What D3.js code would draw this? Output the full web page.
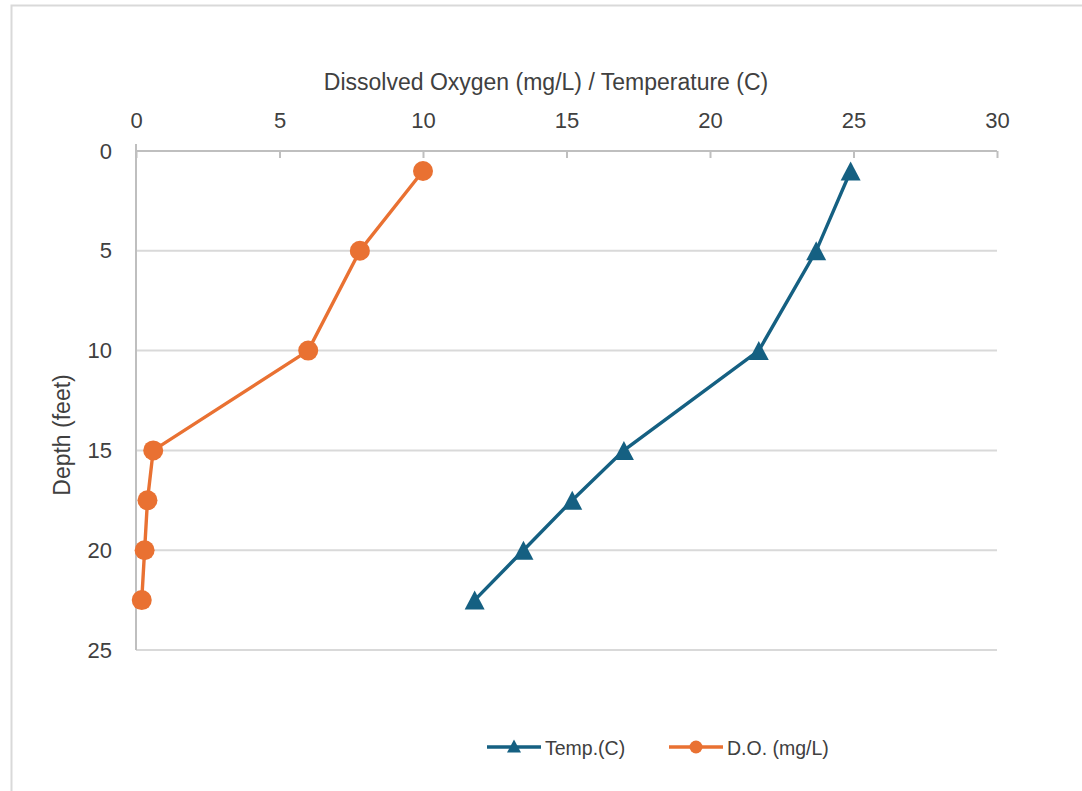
<!DOCTYPE html>
<html>
<head>
<meta charset="utf-8">
<script src="https://cdn.jsdelivr.net/npm/d3@7"></script>
<style>
  body { margin: 0; background: #fff; }
  text { font-family: "Liberation Sans", Arial, sans-serif; fill: #404040; }
</style>
</head>
<body>
<div id="chart"></div>
<script>
// depth profile, feet
var depths = [1, 5, 10, 15, 17.5, 20, 22.5];
var tempC  = [24.9, 23.7, 21.7, 17.0, 15.2, 13.5, 11.8];
var doMgL  = [10.0, 7.8, 6.0, 0.6, 0.4, 0.3, 0.2];
var xTicks = [0, 5, 10, 15, 20, 25, 30];
var yTicks = [0, 5, 10, 15, 20, 25];

var W = 1082, H = 791;
var pLeft = 136, pRight = 997, pTop = 151, pBottom = 650;

var svg = d3.select("#chart").append("svg")
    .attr("width", W)
    .attr("height", H);

// chart frame (runs off the bottom/right edge)
svg.append("rect")
    .attr("x", 11.5).attr("y", 5.5)
    .attr("width", W + 20).attr("height", H + 20)
    .style("fill", "none")
    .style("stroke", "#d9d9d9")
    .style("stroke-width", 2);

var x = d3.scaleLinear().domain([0, 30]).range([pLeft, pRight]);
var y = d3.scaleLinear().domain([0, 25]).range([pTop, pBottom]);

// horizontal gridlines
svg.append("g").selectAll("line")
    .data(yTicks.slice(1))
    .enter().append("line")
    .attr("x1", pLeft).attr("x2", pRight)
    .attr("y1", function(d) { return y(d); })
    .attr("y2", function(d) { return y(d); })
    .style("stroke", "#d9d9d9")
    .style("stroke-width", 2);

// top axis
var xAxis = svg.append("g")
    .attr("transform", "translate(0," + pTop + ")")
    .call(d3.axisTop(x).tickValues(xTicks).tickSize(7).tickPadding(16));
xAxis.select(".domain").remove();
xAxis.selectAll(".tick line").attr("y2", 7).style("stroke", "#bfbfbf").style("stroke-width", 2);
xAxis.selectAll(".tick text").style("font-size", "22px").style("fill", "#404040");
svg.append("line")
    .attr("x1", pLeft).attr("x2", pRight)
    .attr("y1", pTop).attr("y2", pTop)
    .style("stroke", "#bfbfbf").style("stroke-width", 2);

// left axis
var yAxis = svg.append("g")
    .attr("transform", "translate(" + pLeft + ",0)")
    .call(d3.axisLeft(y).tickValues(yTicks).tickSize(0).tickPadding(24));
yAxis.select(".domain").remove();
yAxis.selectAll(".tick text").style("font-size", "22px").style("fill", "#404040");
svg.append("line")
    .attr("x1", pLeft).attr("x2", pLeft)
    .attr("y1", pTop - 7).attr("y2", pBottom)
    .style("stroke", "#bfbfbf").style("stroke-width", 2);

// axis titles
svg.append("text")
    .attr("x", 546).attr("y", 90)
    .attr("text-anchor", "middle")
    .style("font-size", "23px")
    .text("Dissolved Oxygen (mg/L) / Temperature (C)");

svg.append("text")
    .attr("transform", "translate(70,435) rotate(-90)")
    .attr("text-anchor", "middle")
    .style("font-size", "23px")
    .text("Depth (feet)");

var blue = "#156082", orange = "#e97132";

var line = d3.line()
    .x(function(d) { return x(d[0]); })
    .y(function(d) { return y(d[1]); });

var tempData = depths.map(function(d, i) { return [tempC[i], d]; });
var doData   = depths.map(function(d, i) { return [doMgL[i], d]; });

// excel-style triangle, centred on its box
function tri(w, h) {
  return "M0," + (-h / 2) + "L" + (w / 2) + "," + (h / 2) + "L" + (-w / 2) + "," + (h / 2) + "Z";
}

svg.append("path")
    .datum(tempData)
    .attr("d", line)
    .style("fill", "none")
    .style("stroke", blue)
    .style("stroke-width", 3.4);
svg.append("g").selectAll("path")
    .data(tempData)
    .enter().append("path")
    .attr("d", tri(20, 19))
    .attr("transform", function(d) { return "translate(" + x(d[0]) + "," + y(d[1]) + ")"; })
    .style("fill", blue);

svg.append("path")
    .datum(doData)
    .attr("d", line)
    .style("fill", "none")
    .style("stroke", orange)
    .style("stroke-width", 3.4);
svg.append("g").selectAll("circle")
    .data(doData)
    .enter().append("circle")
    .attr("cx", function(d) { return x(d[0]); })
    .attr("cy", function(d) { return y(d[1]); })
    .attr("r", 10)
    .style("fill", orange);

// legend
var legend = [
  { name: "Temp.(C)", color: blue, x0: 487, shape: "tri" },
  { name: "D.O. (mg/L)", color: orange, x0: 669, shape: "dot" }
];
var lg = svg.append("g").selectAll("g")
    .data(legend)
    .enter().append("g")
    .attr("transform", function(d) { return "translate(" + d.x0 + ",747)"; });
lg.append("line")
    .attr("x1", 0).attr("x2", 54)
    .style("stroke", function(d) { return d.color; })
    .style("stroke-width", 3.4);
lg.filter(function(d) { return d.shape == "tri"; })
    .append("path")
    .attr("d", tri(14, 13))
    .attr("transform", "translate(27,-1)")
    .style("fill", blue);
lg.filter(function(d) { return d.shape == "dot"; })
    .append("circle")
    .attr("cx", 27).attr("r", 6.5)
    .style("fill", orange);
lg.append("text")
    .attr("x", 58).attr("y", 8)
    .style("font-size", "19.5px")
    .text(function(d) { return d.name; });
</script>
</body>
</html>
